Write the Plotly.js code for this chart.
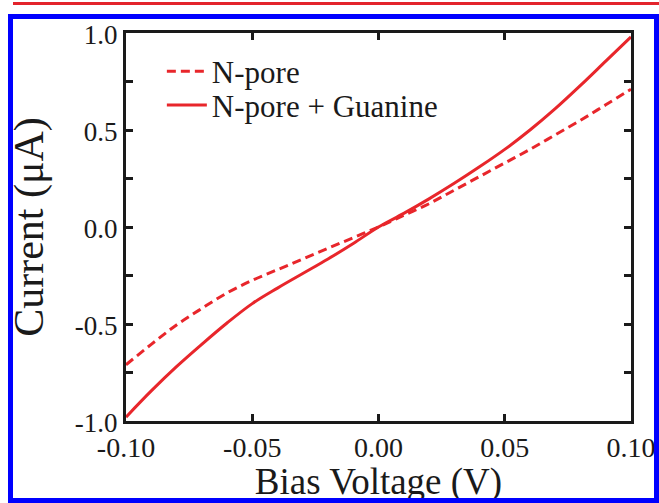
<!DOCTYPE html>
<html>
<head>
<meta charset="utf-8">
<script src="https://cdn.plot.ly/plotly-3.0.1.min.js"></script>
<style>
  html, body { margin: 0; padding: 0; background: #ffffff; }
  #wrap { position: relative; width: 659px; height: 503px; overflow: hidden; }
  #chart { position: absolute; left: 0; top: 0; width: 659px; height: 503px; }
  #redline { position: absolute; left: 13px; top: 2px; width: 646px; height: 3px; background: #e3232b; pointer-events: none; }
  #frame { position: absolute; left: 8px; top: 14px; width: 641px; height: 479px; border: 5px solid #0000ff; pointer-events: none; }
</style>
</head>
<body>
<div id="wrap">
  <div id="chart"></div>
  <div id="redline"></div>
  <div id="frame"></div>
</div>
<script>
// Bias voltage (V)
const voltage = [-0.10, -0.09, -0.08, -0.07, -0.06, -0.05, -0.04, -0.03, -0.02, -0.01, 0.00,
                  0.01, 0.02, 0.03, 0.04, 0.05, 0.06, 0.07, 0.08, 0.09, 0.10];
// Current (µA), N-pore (dashed)
const currentNpore = [-0.71, -0.605, -0.505, -0.42, -0.34, -0.275, -0.22, -0.165, -0.11, -0.055, 0.00,
                       0.06, 0.12, 0.19, 0.26, 0.33, 0.40, 0.475, 0.55, 0.63, 0.71];
// Current (µA), N-pore + Guanine (solid)
const currentGuanine = [-0.98, -0.845, -0.72, -0.605, -0.495, -0.395, -0.315, -0.24, -0.165, -0.085, 0.00,
                         0.07, 0.145, 0.225, 0.31, 0.40, 0.50, 0.61, 0.73, 0.855, 0.98];
const seriesNames = ["N-pore", "N-pore + Guanine"];

// Tick labels (hyphen minus as in the original figure)
const xTickVals = [-0.10, -0.05, 0.00, 0.05, 0.10];
const xTickText = ["-0.10", "-0.05", "0.00", "0.05", "0.10"];
const yTickVals = [-1.0, -0.5, 0.0, 0.5, 1.0];
const yTickText = ["-1.0", "-0.5", "0.0", "0.5", "1.0"];

const red = "#e8262b";
const ink = "#1a1a1a";
const serif = "'Liberation Serif', 'Times New Roman', serif";

const traces = [
  { x: voltage, y: currentNpore, name: seriesNames[0], mode: "lines", legend: "legend",
    line: { color: red, width: 3, dash: "9px,5px", shape: "spline", smoothing: 1 } },
  { x: voltage, y: currentGuanine, name: seriesNames[1], mode: "lines", legend: "legend2",
    line: { color: red, width: 3, shape: "spline", smoothing: 1 } }
];

const legendStyle = {
  xanchor: "left", yanchor: "top", bgcolor: "rgba(0,0,0,0)",
  font: { family: serif, size: 31, color: ink }, itemwidth: 40
};

const layout = {
  width: 659, height: 503,
  margin: { l: 126, r: 28, t: 33, b: 82 },
  paper_bgcolor: "rgba(0,0,0,0)",
  plot_bgcolor: "#ffffff",
  font: { family: serif, color: ink, size: 28 },
  showlegend: true,
  legend: Object.assign({ x: 0.071, y: 0.97 }, legendStyle),
  legend2: Object.assign({ x: 0.071, y: 0.883 }, legendStyle),
  xaxis: {
    range: [-0.1, 0.1], tickmode: "array", tickvals: xTickVals, ticktext: xTickText,
    showline: true, linewidth: 3, linecolor: ink, mirror: "ticks",
    ticks: "inside", ticklen: 7, tickwidth: 3, tickcolor: ink,
    showgrid: false, zeroline: false, ticklabelstandoff: -1,
    tickfont: { family: serif, size: 28, color: ink },
    title: { text: "Bias Voltage (V)", font: { family: serif, size: 37, color: ink }, standoff: 0 }
  },
  yaxis: {
    range: [-1, 1], tickmode: "array", tickvals: yTickVals, ticktext: yTickText,
    showline: true, linewidth: 3, linecolor: ink, mirror: "ticks",
    ticks: "inside", ticklen: 7, tickwidth: 3, tickcolor: ink,
    minor: { tickmode: "linear", tick0: -1, dtick: 0.25, ticks: "inside", ticklen: 7, tickwidth: 3, tickcolor: ink, showgrid: false },
    showgrid: false, zeroline: false, ticklabelshift: 2,
    tickfont: { family: serif, size: 27, color: ink },
    title: { text: "Current (μA)", font: { family: serif, size: 42, color: ink }, standoff: 19 }
  }
};

Plotly.newPlot("chart", traces, layout, { displayModeBar: false, staticPlot: true });
</script>
</body>
</html>
